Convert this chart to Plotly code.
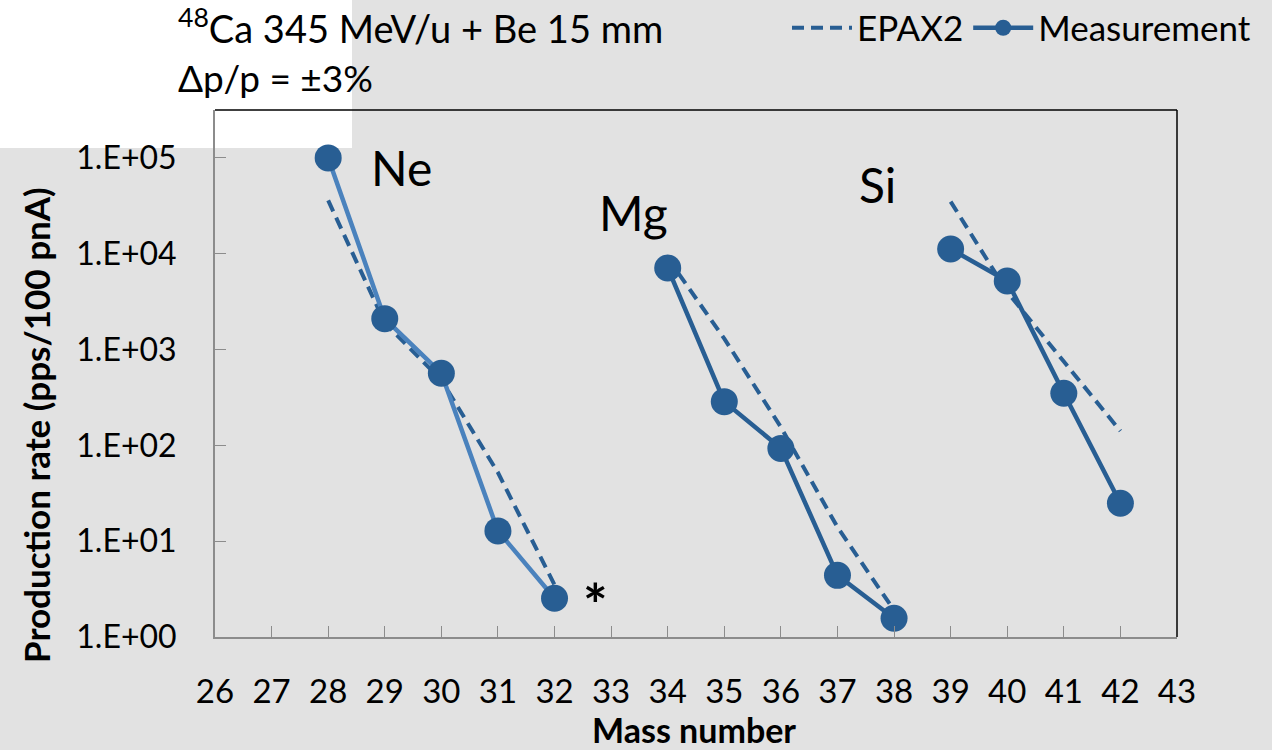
import plotly.graph_objects as go
import numpy as np

# ---- data ----
ne_mass = [28, 29, 30, 31, 32]
ne_meas = [1.0e5, 2.1e3, 566, 12.8, 2.54]
ne_epax = [3.6e4, 1.9e3, 480, 52, 3.5]

mg_mass = [34, 35, 36, 37, 38]
mg_meas = [7.1e3, 286, 93, 4.4, 1.57]
mg_epax = [9.0e3, 1.3e3, 155, 14, 1.9]

si_mass = [39, 40, 41, 42]
si_meas = [1.12e4, 5.2e3, 350, 24.9]
si_epax = [3.5e4, 4.0e3, 750, 141]

y_tick_vals = [1, 10, 100, 1000, 10000, 100000]
y_tick_text = ["1.E+00", "1.E+01", "1.E+02", "1.E+03", "1.E+04", "1.E+05"]
x_ticks = list(range(26, 44))

DARK = "#285e93"
LIGHT = "#4a82bd"
FONT = "Lato"

fig = go.Figure()

# EPAX2 dashed lines
for i, (m, v) in enumerate([(ne_mass, ne_epax), (mg_mass, mg_epax), (si_mass, si_epax)]):
    fig.add_trace(go.Scatter(
        x=m, y=v, mode="lines", name="EPAX2",
        line=dict(color=DARK, width=4, dash="12px,7px"),
        showlegend=(i == 0), legendrank=1, legendgroup="epax"))

# Measurement lines with markers
for i, (m, v, lc) in enumerate([(ne_mass, ne_meas, LIGHT), (mg_mass, mg_meas, DARK), (si_mass, si_meas, DARK)]):
    fig.add_trace(go.Scatter(
        x=m, y=v, mode="lines+markers", name="Measurement",
        line=dict(color=lc, width=4.5),
        marker=dict(color=DARK, size=27),
        showlegend=(i == 1), legendrank=2, legendgroup="meas"))

# element labels
for txt, xx, yy in [("Ne", 29.3, 10**4.90), ("Mg", 33.4, 10**4.43), ("Si", 37.7, 10**4.72)]:
    fig.add_annotation(x=xx, y=np.log10(yy), text=txt, showarrow=False,
                       font=dict(family=FONT, size=48, color="black"))
fig.add_annotation(x=32.72, y=0.35, text="<b>*</b>", showarrow=False,
                   font=dict(family=FONT, size=58, color="black"))

# title text
fig.add_annotation(xref="paper", yref="paper", x=(176 - 215) / 962, y=(637 - 26) / 527,
                   xanchor="left", yanchor="middle", showarrow=False,
                   text="<sup>48</sup>Ca 345 MeV/u + Be 15 mm",
                   font=dict(family=FONT, size=38, color="black"))
fig.add_annotation(xref="paper", yref="paper", x=(176 - 215) / 962, y=(637 - 77) / 527,
                   xanchor="left", yanchor="middle", showarrow=False,
                   text="Δp/p = ±3%",
                   font=dict(family=FONT, size=37, color="black"))

# axis titles
fig.add_annotation(xref="paper", yref="paper", x=(36 - 215) / 962, y=(637 - 425) / 527,
                   xanchor="center", yanchor="middle", showarrow=False, textangle=-90,
                   text="<b>Production rate (pps/100 pnA)</b>",
                   font=dict(family=FONT, size=35, color="black"))
fig.add_annotation(xref="paper", yref="paper", x=(694 - 215) / 962, y=(637 - 729) / 527,
                   xanchor="center", yanchor="middle", showarrow=False,
                   text="<b>Mass number</b>",
                   font=dict(family=FONT, size=34, color="black"))

# white box top-left
fig.add_shape(type="rect", xref="paper", yref="paper",
              x0=-0.3, x1=(352 - 215) / 962, y0=(637 - 148) / 527, y1=1.3,
              fillcolor="white", line=dict(width=0), layer="below")
# top and right frame lines
fig.add_shape(type="line", xref="paper", yref="paper", x0=0, x1=1, y0=1, y1=1,
              line=dict(color="black", width=1.5))
fig.add_shape(type="line", xref="paper", yref="paper", x0=1, x1=1, y0=0, y1=1,
              line=dict(color="black", width=1.5))

fig.update_layout(
    width=1272, height=750,
    margin=dict(l=215, r=95, t=110, b=113, autoexpand=False),
    paper_bgcolor="#e2e2e2",
    plot_bgcolor="rgba(0,0,0,0)",
    font=dict(family=FONT, color="black"),
    legend=dict(orientation="h", x=(1256 - 215) / 962, xanchor="right",
                y=(637 - 28) / 527, yanchor="middle",
                font=dict(family=FONT, size=35), bgcolor="rgba(0,0,0,0)",
                itemwidth=60, tracegroupgap=0),
    showlegend=True,
)
fig.update_xaxes(range=[26, 43], tickvals=x_ticks, ticktext=[str(t) for t in x_ticks],
                 ticks="inside", ticklen=11, tickcolor="#8c8c8c", showgrid=False,
                 zeroline=False, showline=True, linecolor="#8c8c8c", linewidth=2,
                 tickfont=dict(family=FONT, size=33), ticklabelstandoff=24)
fig.update_yaxes(type="log", range=[0, 5.5], tickvals=y_tick_vals, ticktext=y_tick_text,
                 ticks="inside", ticklen=11, tickcolor="#8c8c8c", showgrid=False,
                 zeroline=False, showline=True, linecolor="#8c8c8c", linewidth=2,
                 tickfont=dict(family=FONT, size=32), ticklabelstandoff=30)

fig.write_html("out.html", config={"displayModeBar": False},
               post_script="document.body.style.margin='0';")
